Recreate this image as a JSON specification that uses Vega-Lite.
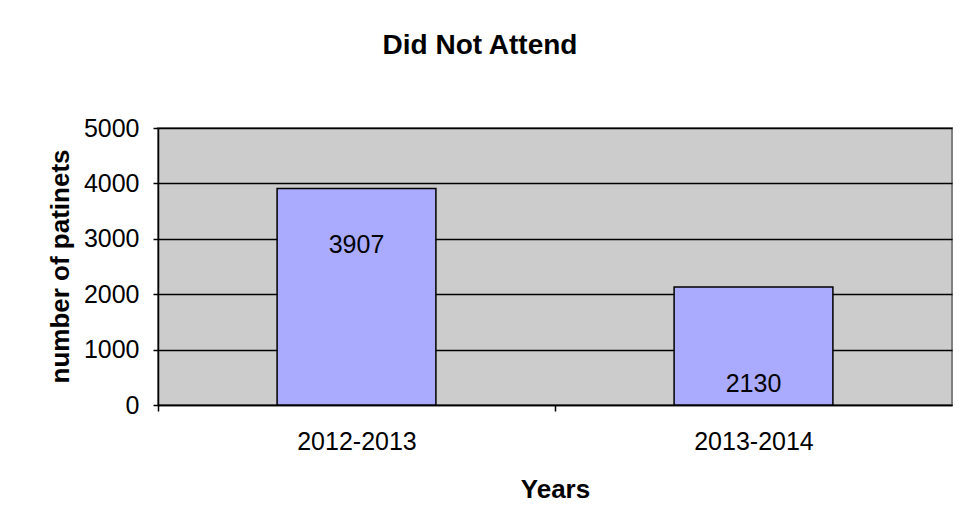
{
  "$schema": "https://vega.github.io/schema/vega-lite/v6.json",
  "autosize": {"type": "none"},
  "width": 794,
  "height": 277,
  "padding": {"left": 158, "top": 128, "right": 7, "bottom": 126},
  "background": "white",
  "title": {
    "text": "Did Not Attend",
    "font": "Liberation Sans",
    "fontSize": 28,
    "fontWeight": "bold",
    "color": "black",
    "anchor": "middle",
    "dx": -75,
    "offset": 56
  },
  "data": {
    "values": [
      {"Years": "2012-2013", "patients": 3907},
      {"Years": "2013-2014", "patients": 2130}
    ]
  },
  "config": {
    "font": "Liberation Sans",
    "view": {"fill": "#cccccc", "stroke": "#808080", "strokeWidth": 2},
    "axis": {
      "labelFont": "Liberation Sans",
      "titleFont": "Liberation Sans",
      "labelColor": "black",
      "titleColor": "black",
      "domainColor": "black",
      "tickColor": "black"
    }
  },
  "encoding": {
    "x": {
      "field": "Years",
      "type": "nominal",
      "sort": null,
      "scale": {"paddingInner": 0.6, "paddingOuter": 0.3},
      "axis": {
        "title": "Years",
        "titleFontSize": 26,
        "titleFontWeight": "bold",
        "titleY": 92,
        "titleBaseline": "alphabetic",
        "labelFontSize": 25,
        "labelAngle": 0,
        "labelPadding": 18,
        "tickBand": "center",
        "tickOffset": -198.5,
        "labelOffset": 198.5,
        "tickSize": 6,
        "domainWidth": 1.5,
        "tickWidth": 1.5
      }
    },
    "y": {
      "field": "patients",
      "type": "quantitative",
      "scale": {"domain": [0, 5000]},
      "axis": {
        "title": "number of patinets",
        "titleFontSize": 26,
        "titleFontWeight": "bold",
        "titleX": -98,
        "titleY": 138,
        "titleAlign": "center",
        "titleBaseline": "middle",
        "values": [0, 1000, 2000, 3000, 4000, 5000],
        "format": "d",
        "labelFontSize": 25,
        "labelPadding": 14,
        "tickSize": 5,
        "grid": true,
        "gridColor": "black",
        "gridWidth": 1.5,
        "gridOpacity": 1,
        "domainWidth": 1.5,
        "tickWidth": 1.5
      }
    }
  },
  "layer": [
    {
      "mark": {"type": "bar", "fill": "#aaaaff", "stroke": "black", "strokeWidth": 1.5}
    },
    {
      "transform": [{"filter": "datum.Years == '2012-2013'"}],
      "mark": {"type": "text", "fontSize": 25, "color": "black", "baseline": "middle", "dy": 56},
      "encoding": {"text": {"field": "patients", "type": "quantitative", "format": "d"}}
    },
    {
      "transform": [{"filter": "datum.Years == '2013-2014'"}],
      "mark": {"type": "text", "fontSize": 25, "color": "black", "baseline": "middle", "dy": 97},
      "encoding": {"text": {"field": "patients", "type": "quantitative", "format": "d"}}
    }
  ]
}
